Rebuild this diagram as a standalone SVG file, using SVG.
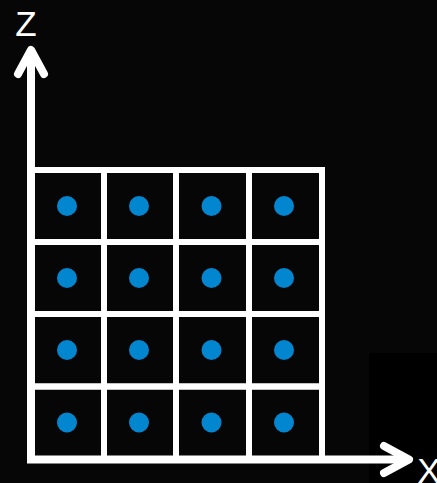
<svg xmlns="http://www.w3.org/2000/svg" width="437" height="483" viewBox="0 0 437 483">
<style>
.cell{fill:none;stroke:#fff;stroke-width:6}
.dot{fill:#0386d0}
.axis{fill:none;stroke:#fff;stroke-width:8;stroke-linejoin:miter}
.head{fill:none;stroke:#fff;stroke-width:8;stroke-linecap:round;stroke-linejoin:round}
.lbl{font-family:"Liberation Sans",Arial,sans-serif;font-size:35px;fill:#fff;text-anchor:middle}
</style>
<rect width="437" height="483" fill="#060606"/>
<rect x="369" y="353" width="68" height="130" fill="#000"/>
<g id="grid">
<g id="r0">
<g id="c00"><rect class="cell" x="31" y="170" width="73" height="72"/><circle class="dot" cx="67" cy="206" r="10"/></g>
<g id="c01"><rect class="cell" x="104" y="170" width="72" height="72"/><circle class="dot" cx="139" cy="206" r="10"/></g>
<g id="c02"><rect class="cell" x="176" y="170" width="73" height="72"/><circle class="dot" cx="211.5" cy="206" r="10"/></g>
<g id="c03"><rect class="cell" x="249" y="170" width="73" height="72"/><circle class="dot" cx="284" cy="206" r="10"/></g>
</g>
<g id="r1">
<g id="c10"><rect class="cell" x="31" y="242" width="73" height="72"/><circle class="dot" cx="67" cy="278" r="10"/></g>
<g id="c11"><rect class="cell" x="104" y="242" width="72" height="72"/><circle class="dot" cx="139" cy="278" r="10"/></g>
<g id="c12"><rect class="cell" x="176" y="242" width="73" height="72"/><circle class="dot" cx="211.5" cy="278" r="10"/></g>
<g id="c13"><rect class="cell" x="249" y="242" width="73" height="72"/><circle class="dot" cx="284" cy="278" r="10"/></g>
</g>
<g id="r2">
<g id="c20"><rect class="cell" x="31" y="314" width="73" height="72.5"/><circle class="dot" cx="67" cy="350" r="10"/></g>
<g id="c21"><rect class="cell" x="104" y="314" width="72" height="72.5"/><circle class="dot" cx="139" cy="350" r="10"/></g>
<g id="c22"><rect class="cell" x="176" y="314" width="73" height="72.5"/><circle class="dot" cx="211.5" cy="350" r="10"/></g>
<g id="c23"><rect class="cell" x="249" y="314" width="73" height="72.5"/><circle class="dot" cx="284" cy="350" r="10"/></g>
</g>
<g id="r3">
<g id="c30"><rect class="cell" x="31" y="386.5" width="73" height="73"/><circle class="dot" cx="67" cy="422.5" r="10"/></g>
<g id="c31"><rect class="cell" x="104" y="386.5" width="72" height="73"/><circle class="dot" cx="139" cy="422.5" r="10"/></g>
<g id="c32"><rect class="cell" x="176" y="386.5" width="73" height="73"/><circle class="dot" cx="211.5" cy="422.5" r="10"/></g>
<g id="c33"><rect class="cell" x="249" y="386.5" width="73" height="73"/><circle class="dot" cx="284" cy="422.5" r="10"/></g>
</g>
</g>
<g id="connectors">
<polyline class="axis" points="31,52 31,459.5 408,459.5"/>
<polyline class="head" points="18,74 31,50 44,74"/>
<polyline class="head" points="384,446 409,459.5 384,473"/>
</g>
<g id="labels">
<text class="lbl" x="26" y="36">Z</text>
<text class="lbl" x="429" y="483">X</text>
</g>
</svg>
